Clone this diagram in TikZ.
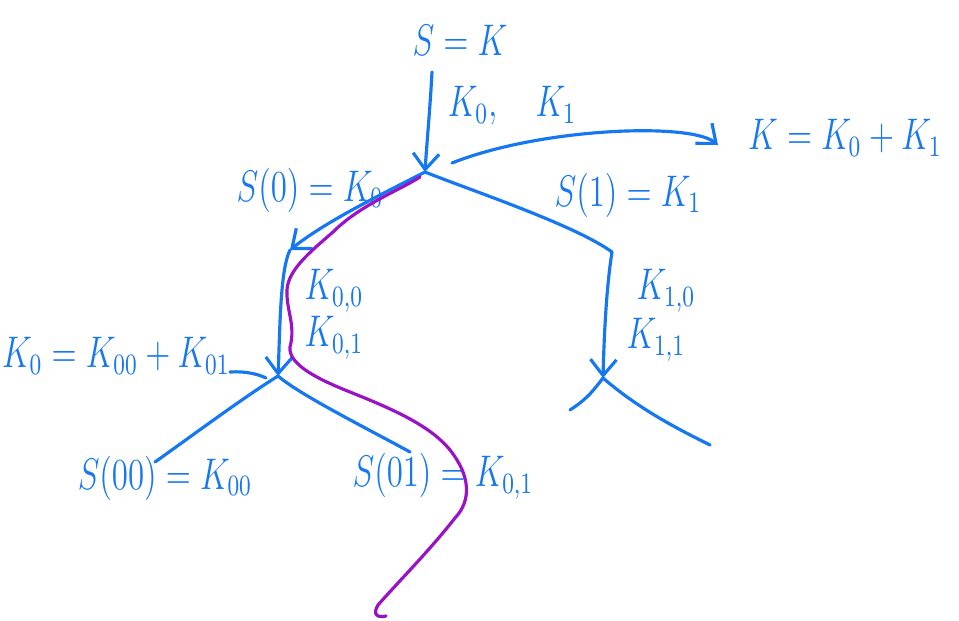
\documentclass[tikz,border=0pt]{standalone}
\usepackage{amsmath}
\usepackage{graphicx}
\usepackage{tikz}
\usetikzlibrary{arrows.meta,positioning,calc}
\definecolor{ink}{HTML}{1577F2}
\definecolor{trail}{HTML}{9A12C6}
\newcommand{\hw}[1]{\scalebox{0.78}[1.05]{$#1$}}

\begin{document}
\begin{tikzpicture}[
  x=0.01cm,y=-0.01cm,
  lbl/.style={text=ink,inner sep=0pt,font=\fontsize{12}{14}\selectfont},
  edge/.style={draw=ink,line width=0.9pt,line cap=round,line join=round},
  tip/.style={-{Straight Barb[length=1.6mm,width=2.6mm]}},
  walk/.style={draw=trail,line width=0.9pt,line cap=round}]
  \useasboundingbox (0,0) rectangle (959,620);
  % tree points
  \coordinate (top) at (432,72);
  \coordinate (r) at (425,172);
  \coordinate (n0) at (290,250);
  \coordinate (n1) at (612,252);
  \coordinate (m0) at (278,376);
  \coordinate (m1) at (603,378);
  \coordinate (e00) at (155,462);
  \coordinate (e01) at (410,452);
  \coordinate (e10) at (570,410);
  \coordinate (e11) at (710,445);
  % labels
  \node[lbl] (sk) at (460,40) {\hw{S=K}};
  \node[lbl] (k01) at (512,106) {\hw{K_{0},\quad K_{1}}};
  \node[lbl] (ksum) at (845,138) {\hw{K=K_{0}+K_{1}}};
  \node[lbl] (s0) at (310,190) {\hw{S(0)=K_{0}}};
  \node[lbl] (s1) at (628,195) {\hw{S(1)=K_{1}}};
  \node[lbl] (k00a) at (334,291) {\hw{K_{0,0}}};
  \node[lbl] (k01a) at (334,338) {\hw{K_{0,1}}};
  \node[lbl] (k10a) at (666,291) {\hw{K_{1,0}}};
  \node[lbl] (k11a) at (656,340) {\hw{K_{1,1}}};
  \node[lbl] (k0sum) at (116,356) {\hw{K_{0}=K_{00}+K_{01}}};
  \node[lbl] (s00) at (165,478) {\hw{S(00)=K_{00}}};
  \node[lbl] (s01) at (443,476) {\hw{S(01)=K_{0,1}}};
  \coordinate (ksumin) at (718,145);
  \coordinate (ksumout) at (452,163);
  \coordinate (k0line) at (230,372);
  \coordinate (k0end) at (266,378);
  % edges
  \draw[edge,tip] (top) .. controls (430,110) and (427,140) .. (r);
  \draw[edge,tip] (ksumout) .. controls (540,128) and (690,122) .. (ksumin);
  \draw[edge,tip] (r) .. controls (380,195) and (325,222) .. (n0);
  \draw[edge] (r) .. controls (470,190) and (575,225) .. (n1);
  \draw[edge,tip] (n0) .. controls (280,270) and (280,330) .. (m0);
  \draw[edge,tip] (n1) .. controls (606,290) and (604,340) .. (m1);
  \draw[edge] (k0line) .. controls (245,371) and (258,374) .. (k0end);
  \draw[edge] (m0) .. controls (240,400) and (200,430) .. (e00);
  \draw[edge] (m0) .. controls (300,395) and (370,430) .. (e01);
  \draw[edge] (m1) .. controls (590,395) and (585,400) .. (e10);
  \draw[edge] (m1) .. controls (640,410) and (680,430) .. (e11);
  % path through the tree
  \draw[walk] (420,177) .. controls (400,190) and (360,205) .. (333,232)
    .. controls (310,252) and (288,270) .. (287,290)
    .. controls (286,310) and (296,325) .. (290,347)
    .. controls (288,365) and (320,380) .. (350,392)
    .. controls (390,408) and (430,425) .. (450,450)
    .. controls (470,475) and (472,500) .. (455,518)
    .. controls (430,550) and (400,580) .. (378,605)
    .. controls (372,615) and (378,618) .. (386,616);
\end{tikzpicture}
\end{document}
